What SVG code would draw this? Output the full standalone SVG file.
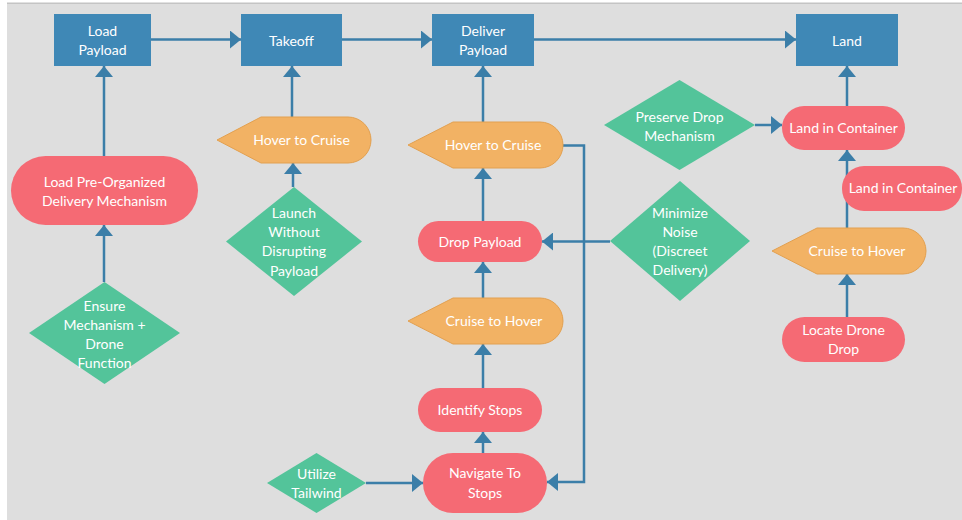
<svg xmlns="http://www.w3.org/2000/svg" width="962" height="520" viewBox="0 0 962 520">
<defs>
<style>
.bg{fill:#dedede}
.proc{fill:#3f88b6}
.term{fill:#f56a74}
.prep{fill:#f2b264;stroke:#e2a050;stroke-width:1}
.dec{fill:#53c49a}
.t{font-family:Lato,"Open Sans","Liberation Sans",sans-serif;font-size:14px;fill:#ffffff;text-anchor:middle}
.c{fill:none;stroke:#3b7ea8;stroke-width:2.5}
</style>
<marker id="ah" markerUnits="userSpaceOnUse" markerWidth="12" markerHeight="18" refX="11" refY="9" orient="auto">
<path d="M0,0 L11,9 L0,18 Z" fill="#3b7ea8"/>
</marker>
</defs>
<rect x="0" y="0" width="962" height="520" fill="#ffffff"/>
<rect x="7" y="3" width="955" height="517" class="bg"/>
<rect x="7" y="2.5" width="955" height="1.5" fill="#c4c4c4"/>

<g id="connectors">
<path class="c" marker-end="url(#ah)" d="M151,39.5 H241"/>
<path class="c" marker-end="url(#ah)" d="M342,39.5 H432"/>
<path class="c" marker-end="url(#ah)" d="M534,39.5 H796"/>
<path class="c" marker-end="url(#ah)" d="M104,156 V66"/>
<path class="c" marker-end="url(#ah)" d="M104,282 V225"/>
<path class="c" marker-end="url(#ah)" d="M292,117 V66"/>
<path class="c" marker-end="url(#ah)" d="M293,187 V163"/>
<path class="c" marker-end="url(#ah)" d="M483,122 V66"/>
<path class="c" marker-end="url(#ah)" d="M483,221 V168"/>
<path class="c" marker-end="url(#ah)" d="M483,298 V262"/>
<path class="c" marker-end="url(#ah)" d="M483,388 V344"/>
<path class="c" marker-end="url(#ah)" d="M483,453 V432"/>
<path class="c" marker-end="url(#ah)" d="M366,483 H423"/>
<path class="c" marker-end="url(#ah)" d="M563,145.5 H584 V482 H547"/>
<path class="c" marker-end="url(#ah)" d="M610,241.5 H542"/>
<path class="c" marker-end="url(#ah)" d="M755,125 H782"/>
<path class="c" marker-end="url(#ah)" d="M847,106 V66"/>
<path class="c" marker-end="url(#ah)" d="M847,228 V150"/>
<path class="c" marker-end="url(#ah)" d="M847,317 V274"/>
</g>

<g id="load-payload"><rect class="proc" x="54" y="14" width="97" height="52"/><text class="t" x="102.5" y="36">Load</text><text class="t" x="102.5" y="55">Payload</text></g>
<g id="takeoff"><rect class="proc" x="241" y="14" width="101" height="52"/><text class="t" x="291.5" y="46">Takeoff</text></g>
<g id="deliver-payload"><rect class="proc" x="432" y="14" width="102" height="52"/><text class="t" x="483" y="36">Deliver</text><text class="t" x="483" y="55">Payload</text></g>
<g id="land"><rect class="proc" x="796" y="14" width="102" height="52"/><text class="t" x="847" y="46">Land</text></g>

<g id="load-pre-organized"><rect class="term" x="11" y="156" width="187" height="69" rx="34.5"/><text class="t" x="104.5" y="187">Load Pre-Organized</text><text class="t" x="104.5" y="206">Delivery Mechanism</text></g>
<g id="ensure-mechanism"><polygon class="dec" points="29,333 104.5,282 180,333 104.5,384"/><text class="t" x="104.5" y="311">Ensure</text><text class="t" x="104.5" y="330">Mechanism +</text><text class="t" x="104.5" y="349">Drone</text><text class="t" x="104.5" y="368">Function</text></g>

<g id="hover-to-cruise-1"><path class="prep" d="M217,140 L261,117 H348 A23,23 0 0 1 348,163 H261 Z"/><text class="t" x="301.5" y="145">Hover to Cruise</text></g>
<g id="launch-without"><polygon class="dec" points="226,241.5 294,187 362,241.5 294,296"/><text class="t" x="294" y="218">Launch</text><text class="t" x="294" y="237">Without</text><text class="t" x="294" y="256">Disrupting</text><text class="t" x="294" y="276">Payload</text></g>

<g id="hover-to-cruise-2"><path class="prep" d="M408,145 L453,122 H540 A23,23 0 0 1 540,168 H453 Z"/><text class="t" x="493" y="150">Hover to Cruise</text></g>
<g id="drop-payload"><rect class="term" x="418" y="221" width="124" height="41" rx="20.5"/><text class="t" x="480" y="247">Drop Payload</text></g>
<g id="cruise-to-hover-1"><path class="prep" d="M408,321 L453,298 H540 A23,23 0 0 1 540,344 H453 Z"/><text class="t" x="494" y="326">Cruise to Hover</text></g>
<g id="identify-stops"><rect class="term" x="418" y="388" width="124" height="44" rx="22"/><text class="t" x="480" y="415">Identify Stops</text></g>
<g id="navigate-to-stops"><rect class="term" x="423" y="453" width="124" height="60" rx="30"/><text class="t" x="485" y="478">Navigate To</text><text class="t" x="485" y="498">Stops</text></g>
<g id="utilize-tailwind"><polygon class="dec" points="267,483 316.5,453 366,483 316.5,513"/><text class="t" x="316.5" y="479">Utilize</text><text class="t" x="316.5" y="498">Tailwind</text></g>

<g id="minimize-noise"><polygon class="dec" points="610,241 680,181 750,241 680,301"/><text class="t" x="680" y="218">Minimize</text><text class="t" x="680" y="237">Noise</text><text class="t" x="680" y="256">(Discreet</text><text class="t" x="680" y="275">Delivery)</text></g>
<g id="preserve-drop"><polygon class="dec" points="604,125 679.5,80 755,125 679.5,170"/><text class="t" x="679.5" y="122">Preserve Drop</text><text class="t" x="679.5" y="141">Mechanism</text></g>

<g id="land-in-container-1"><rect class="term" x="782" y="106" width="123" height="44" rx="22"/><text class="t" x="843.5" y="133">Land in Container</text></g>
<g id="land-in-container-2"><rect class="term" x="842" y="166" width="120" height="45" rx="22"/><text class="t" x="903" y="193">Land in Container</text></g>
<g id="cruise-to-hover-2"><path class="prep" d="M772,251 L817,228 H903 A23,23 0 0 1 903,274 H817 Z"/><text class="t" x="857" y="256">Cruise to Hover</text></g>
<g id="locate-drone-drop"><rect class="term" x="782" y="317" width="123" height="45" rx="22.5"/><text class="t" x="843.5" y="335">Locate Drone</text><text class="t" x="843.5" y="354">Drop</text></g>
</svg>
